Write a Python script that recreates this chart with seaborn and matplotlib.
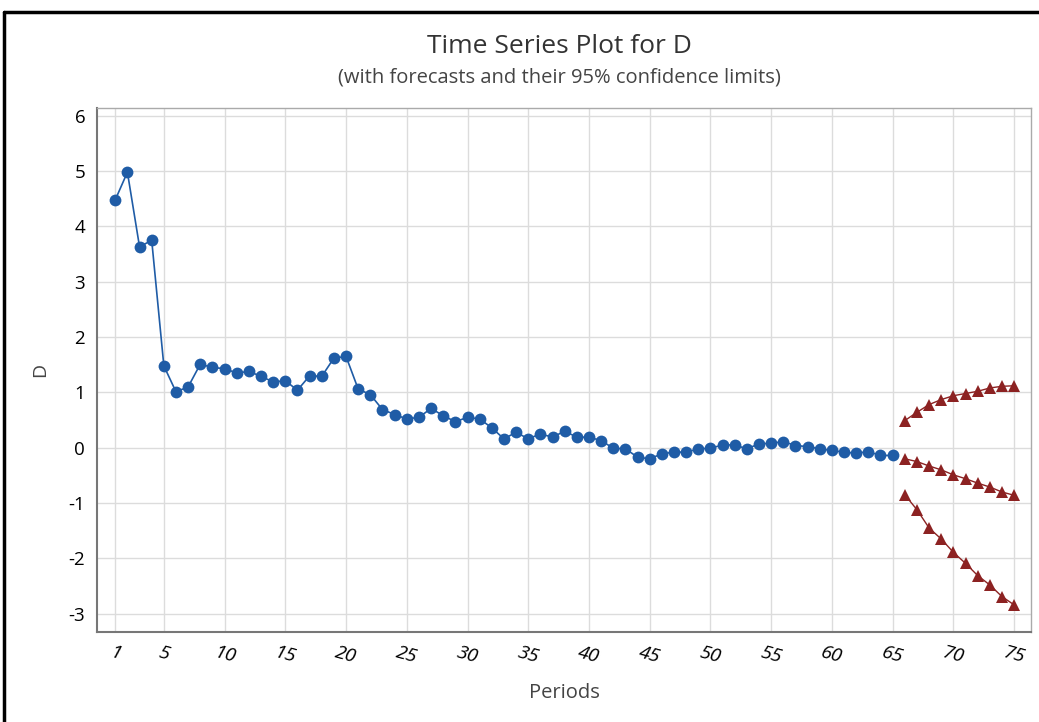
import numpy as np
import pandas as pd
import matplotlib.pyplot as plt
from matplotlib.lines import Line2D
import seaborn as sns

# observed series D, periods 1..65
periods = list(range(1, 66))
d_values = [4.48, 4.98, 3.63, 3.75, 1.48, 1.01, 1.10, 1.51, 1.45, 1.43,
            1.35, 1.38, 1.29, 1.19, 1.21, 1.04, 1.30, 1.29, 1.62, 1.65,
            1.06, 0.96, 0.69, 0.60, 0.52, 0.55, 0.71, 0.58, 0.47, 0.55,
            0.52, 0.36, 0.16, 0.28, 0.16, 0.25, 0.19, 0.30, 0.19, 0.19,
            0.13, -0.01, -0.02, -0.17, -0.20, -0.11, -0.08, -0.08, -0.02, -0.01,
            0.05, 0.05, -0.02, 0.07, 0.08, 0.11, 0.04, 0.02, -0.02, -0.05,
            -0.08, -0.10, -0.07, -0.14, -0.14]

# forecasts for periods 66..75 with 95% limits
fc_periods = list(range(66, 76))
fc_upper = [0.49, 0.64, 0.78, 0.87, 0.94, 0.98, 1.02, 1.08, 1.11, 1.12]
fc_mid = [-0.20, -0.25, -0.33, -0.40, -0.49, -0.56, -0.64, -0.71, -0.80, -0.86]
fc_lower = [-0.85, -1.12, -1.45, -1.65, -1.89, -2.09, -2.31, -2.48, -2.69, -2.84]

x_ticks = [1, 5, 10, 15, 20, 25, 30, 35, 40, 45, 50, 55, 60, 65, 70, 75]
y_ticks = [-3, -2, -1, 0, 1, 2, 3, 4, 5, 6]

blue = "#1f5ca6"
red = "#8c2222"

sns.set_style("white")
plt.rcParams['font.family'] = ['Open Sans', 'DejaVu Sans']

fig = plt.figure(figsize=(10.39, 7.22), dpi=100)
ax = fig.add_axes([0.0934, 0.1247, 0.899, 0.7257])

obs = pd.DataFrame({"Periods": periods, "D": d_values})
sns.lineplot(data=obs, x="Periods", y="D", ax=ax, color=blue, linewidth=1.2,
             marker="o", markersize=8.5, markeredgewidth=0)

for series in [fc_upper, fc_mid, fc_lower]:
    fc = pd.DataFrame({"Periods": fc_periods, "D": series})
    sns.lineplot(data=fc, x="Periods", y="D", ax=ax, color=red, linewidth=1.0,
                 marker="^", markersize=9, markeredgewidth=0)

ax.set_xlim(-0.5, 76.4)
ax.set_ylim(-3.33, 6.14)
ax.set_xticks(x_ticks)
ax.set_yticks(y_ticks)
ax.set_xticklabels([str(t) for t in x_ticks], rotation=-15, style='italic',
                   fontsize=14, color='black')
ax.set_yticklabels([str(t) for t in y_ticks], fontsize=13.5, color='black')
ax.grid(True, color='#dcdcdc', linewidth=1)
ax.tick_params(axis='both', length=5, color='#777777', direction='out')
for side in ['left', 'bottom']:
    ax.spines[side].set_color('#777777')
    ax.spines[side].set_linewidth(1.5)
for side in ['top', 'right']:
    ax.spines[side].set_color('#aaaaaa')
    ax.spines[side].set_linewidth(1.0)

ax.set_xlabel("Periods", fontsize=14.5, color='#444444', labelpad=12)
ax.set_ylabel("D", fontsize=14, color='#444444', labelpad=14)

fig.text(0.538, 0.936, "Time Series Plot for D", ha='center', va='center',
         fontsize=19, color='#333333')
fig.text(0.538, 0.893, "(with forecasts and their 95% confidence limits)",
         ha='center', va='center', fontsize=14.5, color='#444444')

# black frame visible on top/left edge of the original capture
fig.add_artist(Line2D([0.004, 0.004], [0, 0.983], transform=fig.transFigure,
                      color='black', linewidth=2.5))
fig.add_artist(Line2D([0.004, 1.0], [0.983, 0.983], transform=fig.transFigure,
                      color='black', linewidth=2.5))

fig.savefig("out.png", dpi=100)
